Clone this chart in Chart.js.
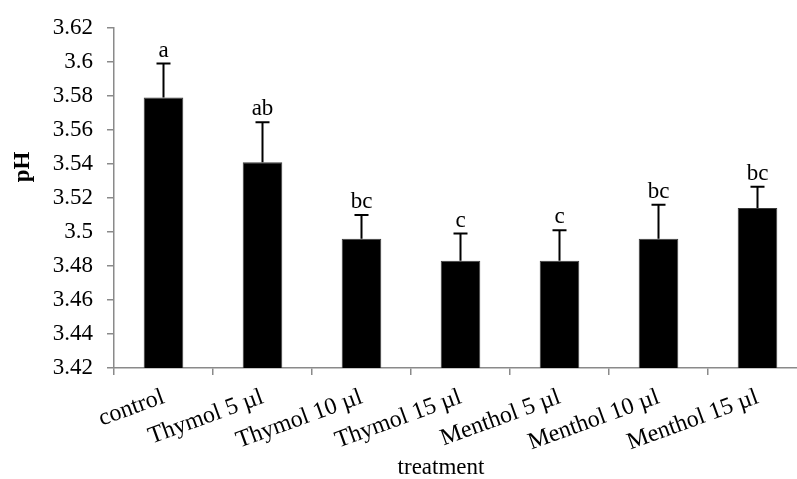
<!DOCTYPE html>
<html lang="en">
<head>
    <meta charset="UTF-8">
    <title>pH by treatment</title>
    <script src="https://cdn.jsdelivr.net/npm/chart.js"></script>
    <style>
        html, body { margin: 0; padding: 0; background: #fff; overflow: hidden; }
        #wrap { width: 812px; height: 479px; }
    </style>
</head>
<body>
    <div id="wrap"><canvas id="ph-chart"></canvas></div>
    <script>
        // data
        const treatments = ['control', 'Thymol 5 µl', 'Thymol 10 µl', 'Thymol 15 µl',
                            'Menthol 5 µl', 'Menthol 10 µl', 'Menthol 15 µl'];
        const phValues = [3.579, 3.541, 3.496, 3.483, 3.483, 3.496, 3.514];
        const phErrors = [0.020, 0.0235, 0.014, 0.016, 0.018, 0.020, 0.0125];
        const groupLetters = ['a', 'ab', 'bc', 'c', 'c', 'bc', 'bc'];
        const yTicks = [3.42, 3.44, 3.46, 3.48, 3.5, 3.52, 3.54, 3.56, 3.58, 3.6, 3.62];
        const yTickLabels = ['3.42', '3.44', '3.46', '3.48', '3.5', '3.52', '3.54', '3.56', '3.58', '3.6', '3.62'];

        const serif = '"Liberation Serif", "Times New Roman", serif';
        const axisGrey = '#8a8a8a';

        // upward error bars + letters above them
        const errorBars = {
            id: 'errorBars',
            afterDatasetsDraw(chart) {
                const ctx = chart.ctx;
                const x = chart.scales.x, y = chart.scales.y;
                ctx.save();
                ctx.strokeStyle = '#000';
                ctx.lineWidth = 2;
                ctx.fillStyle = '#000';
                ctx.font = '23px ' + serif;
                ctx.textAlign = 'center';
                ctx.textBaseline = 'alphabetic';
                phValues.forEach((v, i) => {
                    const px = x.getPixelForValue(i);
                    const yBar = y.getPixelForValue(v);
                    const yTop = y.getPixelForValue(v + phErrors[i]);
                    ctx.beginPath();
                    ctx.moveTo(px, yBar);
                    ctx.lineTo(px, yTop);
                    ctx.moveTo(px - 7, yTop);
                    ctx.lineTo(px + 7, yTop);
                    ctx.stroke();
                    ctx.fillText(groupLetters[i], px, yTop - 7);
                });
                ctx.restore();
            }
        };

        // axis titles (the pH title sits above the axis centre in the original)
        const axisTitles = {
            id: 'axisTitles',
            afterDraw(chart) {
                const ctx = chart.ctx;
                ctx.save();
                ctx.fillStyle = '#000';
                ctx.textAlign = 'center';
                ctx.textBaseline = 'middle';
                ctx.font = '23px ' + serif;
                ctx.fillText('treatment', 441, 468);
                ctx.translate(23, 167);
                ctx.rotate(-Math.PI / 2);
                ctx.font = 'bold 23px ' + serif;
                ctx.fillText('pH', 0, 0);
                ctx.restore();
            }
        };

        new Chart(document.getElementById('ph-chart'), {
            type: 'bar',
            data: {
                labels: treatments,
                datasets: [{
                    data: phValues,
                    backgroundColor: '#000',
                    borderColor: '#3a3a3a',
                    borderWidth: 1,
                    categoryPercentage: 1,
                    barPercentage: 0.4
                }]
            },
            options: {
                responsive: true,
                maintainAspectRatio: false,
                animation: false,
                devicePixelRatio: 1,
                layout: { padding: { left: 0, right: 5, top: 23, bottom: 0 } },
                plugins: {
                    legend: { display: false },
                    tooltip: { enabled: false }
                },
                scales: {
                    x: {
                        offset: true,
                        grid: {
                            offset: true,
                            drawOnChartArea: false,
                            color: axisGrey,
                            lineWidth: 1.5,
                            tickLength: 7
                        },
                        border: { color: axisGrey, width: 1.5 },
                        ticks: {
                            color: '#000',
                            font: { family: serif, size: 24 },
                            minRotation: 20,
                            maxRotation: 20,
                            padding: 8,
                            autoSkip: false
                        },
                        afterFit(scale) { scale.height = 111; }
                    },
                    y: {
                        min: 3.42,
                        max: 3.62,
                        afterBuildTicks(scale) {
                            scale.ticks = yTicks.map(v => ({ value: v }));
                        },
                        grid: {
                            drawOnChartArea: false,
                            color: axisGrey,
                            lineWidth: 1.5,
                            tickLength: 7
                        },
                        border: { color: axisGrey, width: 1.5 },
                        ticks: {
                            color: '#000',
                            font: { family: serif, size: 23 },
                            padding: 14,
                            callback: (v, i) => yTickLabels[i]
                        },
                        afterFit(scale) { scale.width = 114; }
                    }
                }
            },
            plugins: [errorBars, axisTitles]
        });
    </script>
</body>
</html>
